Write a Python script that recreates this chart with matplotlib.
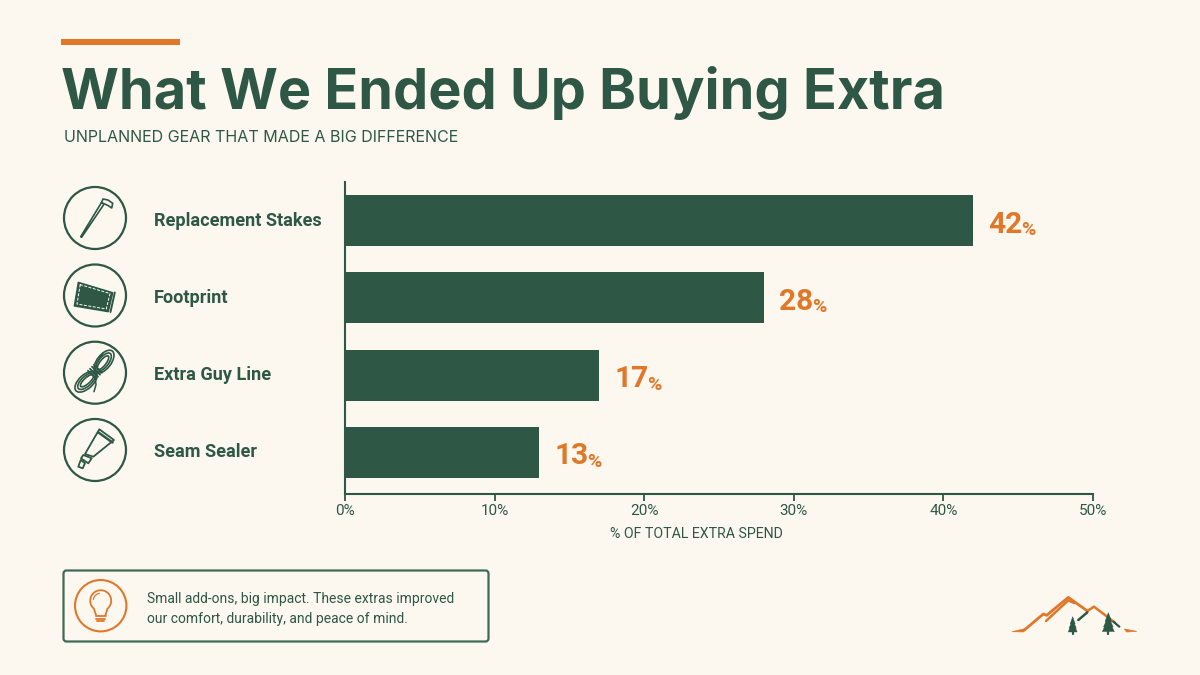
"""Bar chart of unplanned gear spending, with hand-drawn icons and a note box."""

import numpy as np
import matplotlib
matplotlib.use("Agg")
import matplotlib.pyplot as plt
import matplotlib.patches as patches
from matplotlib.transforms import blended_transform_factory

# ---------------------------------------------------------------------------
# Data
# ---------------------------------------------------------------------------
categories = ["Replacement Stakes", "Footprint", "Extra Guy Line", "Seam Sealer"]
shares = [42, 28, 17, 13]
tick_values = [0, 10, 20, 30, 40, 50]
tick_labels = ["0%", "10%", "20%", "30%", "40%", "50%"]

title = "What We Ended Up Buying Extra"
subtitle = "UNPLANNED GEAR THAT MADE A BIG DIFFERENCE"
axis_label = "% OF TOTAL EXTRA SPEND"
note_lines = ["Small add-ons, big impact. These extras improved",
              "our comfort, durability, and peace of mind."]

# ---------------------------------------------------------------------------
# Style
# ---------------------------------------------------------------------------
BG = "#FCF8EF"
GREEN = "#2E5745"
ORANGE = "#E0782A"
FONT = "Roboto"
HEAD_FONT = ["Inter", "DejaVu Sans"]

plt.rcParams["font.family"] = [FONT, "DejaVu Sans"]

fig = plt.figure(figsize=(12, 6.75), dpi=100, facecolor=BG)

# Full-figure canvas measured in pixels, y pointing down
canvas = fig.add_axes([0, 0, 1, 1], zorder=0)
canvas.set_xlim(0, 1200)
canvas.set_ylim(675, 0)
canvas.axis("off")


def outline(points, color=GREEN, lw=1.3, fill="none", closed=True, z=3):
    patch = patches.Polygon(points, closed=closed, facecolor=fill, edgecolor=color,
                            linewidth=lw, zorder=z, joinstyle="round", capstyle="round")
    canvas.add_patch(patch)
    return patch


def stroke(xs, ys, color=GREEN, lw=1.3, z=3):
    canvas.plot(xs, ys, color=color, lw=lw, zorder=z, solid_capstyle="round")


def ring(cx, cy, r=31, color=GREEN, lw=1.6):
    canvas.add_patch(patches.Circle((cx, cy), r, facecolor="none",
                                    edgecolor=color, linewidth=lw, zorder=2))


def offset(cx, cy, points):
    return [(cx + dx, cy + dy) for dx, dy in points]


def draw_stake(cx, cy):
    ring(cx, cy)
    outline(offset(cx, cy, [(-14.3, 18.7), (6.5, -15.5), (9, -13.8), (-13.4, 19.3)]),
            fill=BG, lw=1.2)
    outline(offset(cx, cy, [(8, -19), (13, -18), (17.7, -14.7), (16.7, -10), (13, -12.5),
                            (6.5, -15.5)]), fill=BG, lw=1.2)


def draw_footprint(cx, cy):
    ring(cx, cy)
    outline(offset(cx, cy, [(-16.7, -13.2), (17.7, -2.8), (13.3, 16.2), (-20.7, 10.5)]),
            fill=GREEN, lw=1.0)
    seam = outline(offset(cx, cy, [(-14.8, -10.8), (15, -2), (11.3, 13.5), (-18, 8.5)]),
                   color=BG, lw=0.7)
    seam.set_linestyle((0, (2.4, 2.2)))
    stroke([cx + 19.8, cx + 15.5], [cy - 3, cy + 16.5], lw=1.4)


def draw_rope(cx, cy):
    ring(cx, cy)
    for i, (w, h) in enumerate([(27, 14), (22, 10), (17, 6)]):
        canvas.add_patch(patches.Ellipse((cx + 9 - i * 0.5, cy - 11 + i * 0.5), w, h,
                                         angle=-52, facecolor="none", edgecolor=GREEN,
                                         linewidth=1.2, zorder=3))
        canvas.add_patch(patches.Ellipse((cx - 9 + i * 0.5, cy + 9 - i * 0.5), w, h,
                                         angle=-42, facecolor="none", edgecolor=GREEN,
                                         linewidth=1.2, zorder=3))
    # Wraps around the middle of the coil
    for t in (-3.0, -1.0, 1.0, 3.0):
        stroke([cx + t - 4, cx + t + 4], [cy - 1 - t - 4, cy - 1 - t + 4], lw=1.3, z=4)
    stroke([cx, cx + 1, cx - 1], [cy + 4, cy + 12, cy + 19], lw=1.1)
    stroke([cx + 2, cx + 6, cx + 8], [cy - 10, cy - 17, cy - 20], lw=1.1)


def draw_tube(cx, cy):
    ring(cx, cy)
    outline(offset(cx, cy, [(4.3, -20.7), (19, -10), (-1.7, 6.7), (-10, 4)]), fill=BG)
    stroke([cx + 3.5, cx + 17.5], [cy - 17.5, cy - 7.5], lw=1.8)
    outline(offset(cx, cy, [(-11.7, 5), (-3.3, 8.3), (-6.7, 13.3), (-14, 8.3)]), fill=BG)
    outline(offset(cx, cy, [(-14.3, 10), (-10, 13.3), (-12.3, 18.3), (-16.7, 16.7)]), fill=BG)


def draw_bulb(cx, cy):
    ring(cx, cy, r=25.7, color=ORANGE, lw=1.5)
    angles = np.radians(np.arange(-50, 231, 10))
    xs = cx + 10.5 * np.cos(angles)
    ys = cy - 5 - 10.5 * np.sin(angles)
    stroke(np.r_[cx + 4.5, xs, cx - 4.5], np.r_[cy + 10, ys, cy + 10], color=ORANGE)
    for dy, half in [(10.5, 5), (13, 4.5), (15.5, 3.5)]:
        stroke([cx - half, cx + half], [cy + dy, cy + dy], color=ORANGE)
    angles = np.radians(np.arange(100, 171, 10))
    stroke(cx + 7.5 * np.cos(angles), cy - 5 - 7.5 * np.sin(angles), color=ORANGE, lw=0.9)


def draw_tree(cx, top, bottom, half):
    h = bottom - top
    for frac, w in [(0.42, 0.55), (0.68, 0.8), (0.9, 1.0)]:
        outline([(cx, top + (frac - 0.42) * h * 0.6), (cx + half * w, top + frac * h),
                 (cx - half * w, top + frac * h)], fill=GREEN, lw=0.3)
    stroke([cx, cx], [top + 0.8 * h, bottom], lw=1.6)


def draw_logo():
    x0, y0 = 1000, 585

    def to_px(pts):
        return [(x0 + a / 3, y0 + b / 3) for a, b in pts]

    stroke(*zip(*to_px([(72, 136), (130, 87), (140, 91), (205, 37), (262, 78)])),
           color=ORANGE, lw=2.0)
    stroke(*zip(*to_px([(138, 108), (205, 46), (222, 54)])), color=ORANGE, lw=1.8)
    stroke(*zip(*to_px([(262, 78), (282, 65), (345, 113)])), color=ORANGE, lw=1.8)
    stroke(*zip(*to_px([(235, 105), (262, 82)])), lw=1.8)
    stroke(*zip(*to_px([(340, 110), (358, 125)])), lw=1.6)
    outline(to_px([(37, 140), (75, 131), (70, 141)]), color=ORANGE, fill=ORANGE, lw=0.5)
    outline(to_px([(373, 132), (410, 139), (380, 141)]), color=ORANGE, fill=ORANGE, lw=0.5)
    draw_tree(x0 + 218 / 3, y0 + 95 / 3, y0 + 146 / 3, 4.5)
    draw_tree(x0 + 325 / 3, y0 + 83 / 3, y0 + 146 / 3, 6)


# ---------------------------------------------------------------------------
# Header
# ---------------------------------------------------------------------------
canvas.add_patch(patches.Rectangle((61, 39), 119, 6, facecolor=ORANGE, edgecolor="none"))
canvas.text(61, 109, title, fontsize=40.2, fontweight="bold", color=GREEN,
            va="baseline", ha="left", family=HEAD_FONT)
canvas.text(64, 137, subtitle, fontsize=11.55, color=GREEN, va="center", ha="left",
            family=HEAD_FONT)

# ---------------------------------------------------------------------------
# Bars
# ---------------------------------------------------------------------------
ax = fig.add_axes([345 / 1200, 1 - 494 / 675, 748 / 1200, 312 / 675], zorder=1)
ax.patch.set_alpha(0)
positions = np.arange(len(categories))
ax.barh(positions, shares, height=0.66, color=GREEN)
ax.set_xlim(tick_values[0], tick_values[-1])
ax.set_ylim(3.54, -0.5)

ax.spines["top"].set_visible(False)
ax.spines["right"].set_visible(False)
for side in ("left", "bottom"):
    ax.spines[side].set_color(GREEN)
    ax.spines[side].set_linewidth(1.5)
ax.set_yticks([])
ax.set_xticks(tick_values)
ax.set_xticklabels(tick_labels, fontsize=11, color=GREEN)
ax.tick_params(axis="x", length=5, width=1.3, color=GREEN, pad=2)
ax.set_xlabel(axis_label, fontsize=10.2, color=GREEN, labelpad=7, x=0.47)

# Value labels: large number with a smaller percent sign after it
for pos, share in zip(positions, shares):
    num = ax.annotate(str(share), xy=(share, pos), xytext=(11, -3),
                      textcoords="offset points", fontsize=21.5, fontweight="bold",
                      color=ORANGE, va="center", ha="left")
    ax.annotate("%", xy=(1, 0.13), xycoords=num, xytext=(-1, 0),
                textcoords="offset points", fontsize=14, fontweight="bold",
                color=ORANGE, va="baseline", ha="left")

# Category names sit on the canvas, level with their bars
label_tf = blended_transform_factory(canvas.transData, ax.transData)
for pos, name in zip(positions, categories):
    ax.text(154, pos, name, transform=label_tf, fontsize=13.1, fontweight="bold",
            color=GREEN, va="center", ha="left", clip_on=False)

# ---------------------------------------------------------------------------
# Icons
# ---------------------------------------------------------------------------
draw_stake(95, 218)
draw_footprint(95, 295.5)
draw_rope(95, 372.7)
draw_tube(95, 450)

# ---------------------------------------------------------------------------
# Note box and logo
# ---------------------------------------------------------------------------
canvas.add_patch(patches.FancyBboxPatch((66, 573), 420, 66,
                                        boxstyle="round,pad=2.5,rounding_size=3",
                                        facecolor="none", edgecolor="#3F6A56", linewidth=1.6))
draw_bulb(100.7, 605.7)
for y, line in zip((598.5, 618.5), note_lines):
    canvas.text(147, y, line, fontsize=10, color=GREEN, va="center", ha="left")

draw_logo()

fig.savefig("out.png", dpi=100, facecolor=BG)
